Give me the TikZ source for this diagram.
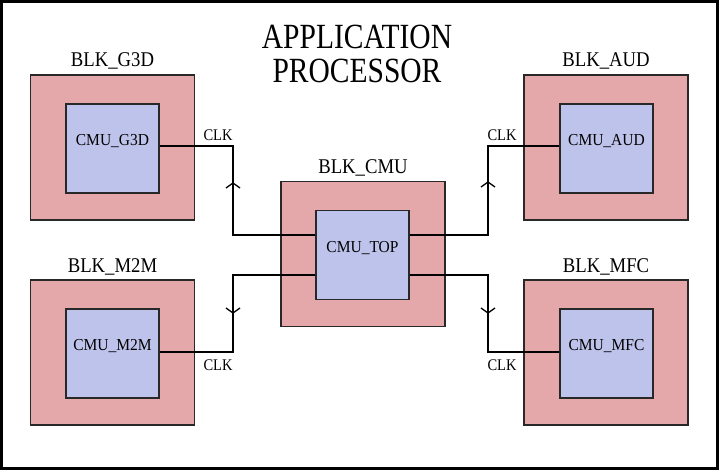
\documentclass[tikz,border=0pt]{standalone}
\usepackage{graphicx}
\usepackage{fontspec}
\setmainfont{Liberation Serif}
\definecolor{blkpink}{RGB}{229,168,170}
\definecolor{cmublue}{RGB}{190,195,235}
\definecolor{edgegray}{RGB}{40,40,40}
\newcommand{\vstr}[2][1.12]{\scalebox{1}[#1]{#2}}
\tikzset{
  blkbox/.style={draw=edgegray, line width=1.4pt, fill=blkpink, minimum width=164pt, minimum height=145pt, inner sep=0pt},
  cmubox/.style={draw=edgegray, line width=1.4pt, fill=cmublue, minimum width=93pt, minimum height=89pt, inner sep=0pt},
  blklabel/.style={anchor=base, inner sep=0pt, font=\fontsize{18.7}{20}\selectfont},
  cmulabel/.style={anchor=base, inner sep=0pt, font=\fontsize{15.5}{17}\selectfont},
  clklabel/.style={anchor=base, inner sep=0pt, font=\fontsize{14.5}{16}\selectfont},
  titlelabel/.style={anchor=base, inner sep=0pt, font=\fontsize{29.5}{32}\selectfont},
  wire/.style={draw=black, line width=1.3pt},
  chevron/.style={draw=black, line width=1.3pt, line join=miter}
}
\begin{document}
\begin{tikzpicture}[x=1pt,y=-1pt]
\useasboundingbox (0,0) rectangle (719,470);
\draw[line width=3pt] (1.5,1.5) rectangle (717.5,468.5);

% title
\node[titlelabel] (t1) at (357,49) {\vstr[1.2]{APPLICATION}};
\node[titlelabel] (t2) at (357,83) {\vstr[1.2]{PROCESSOR}};

% blocks
\node[blkbox] (blkg3d) at (112.5,147.5) {};
\node[blkbox] (blkaud) at (606,147.5) {};
\node[blkbox] (blkcmu) at (363,254) {};
\node[blkbox] (blkm2m) at (112.5,352.5) {};
\node[blkbox] (blkmfc) at (606,352.5) {};

\node[cmubox] (cmug3d) at (112.5,148.5) {};
\node[cmubox] (cmuaud) at (606.5,148.5) {};
\node[cmubox] (cmutop) at (362.5,255) {};
\node[cmubox] (cmum2m) at (112.5,353.5) {};
\node[cmubox] (cmumfc) at (606.5,353.5) {};

% block labels
\node[blklabel] (lg3d) at (112.5,67) {\vstr{BLK\_G3D}};
\node[blklabel] (laud) at (606,67) {\vstr{BLK\_AUD}};
\node[blklabel] (lcmu) at (363,174) {\vstr{BLK\_CMU}};
\node[blklabel] (lm2m) at (112.5,272) {\vstr{BLK\_M2M}};
\node[blklabel] (lmfc) at (606,272) {\vstr{BLK\_MFC}};

% cmu labels
\node[cmulabel] (tg3d) at ([yshift=3pt]cmug3d.center) {\vstr[1.08]{CMU\_G3D}};
\node[cmulabel] (taud) at ([yshift=3pt]cmuaud.center) {\vstr[1.08]{CMU\_AUD}};
\node[cmulabel] (ttop) at ([yshift=3pt]cmutop.center) {\vstr[1.08]{CMU\_TOP}};
\node[cmulabel] (tm2m) at ([yshift=3pt]cmum2m.center) {\vstr[1.08]{CMU\_M2M}};
\node[cmulabel] (tmfc) at ([yshift=3pt]cmumfc.center) {\vstr[1.08]{CMU\_MFC}};

% bend points
\coordinate (b1) at (233,146);
\coordinate (b2) at (233,352);
\coordinate (b3) at (488,146);
\coordinate (b4) at (488,352);
\coordinate (c1) at (0,235);
\coordinate (c2) at (0,275);

% wires
\draw[wire] (cmutop.west |- c1) -| (b1) -- (b1 -| cmug3d.east);
\draw[wire] (cmutop.west |- c2) -| (b2) -- (b2 -| cmum2m.east);
\draw[wire] (cmutop.east |- c1) -| (b3) -- (b3 -| cmuaud.west);
\draw[wire] (cmutop.east |- c2) -| (b4) -- (b4 -| cmumfc.west);

% chevrons on the wires
\coordinate (h1) at (233,183);
\coordinate (h2) at (233,313);
\coordinate (h3) at (488,182);
\coordinate (h4) at (488,313);
\draw[chevron] ([shift={(-7,5)}]h1) -- (h1) -- ([shift={(7,5)}]h1);
\draw[chevron] ([shift={(-7,-5)}]h2) -- (h2) -- ([shift={(7,-5)}]h2);
\draw[chevron] ([shift={(-7,5)}]h3) -- (h3) -- ([shift={(7,5)}]h3);
\draw[chevron] ([shift={(-7,-5)}]h4) -- (h4) -- ([shift={(7,-5)}]h4);

% clk labels
\node[clklabel] (k1) at (218,141) {\vstr{CLK}};
\node[clklabel] (k2) at (502,141) {\vstr{CLK}};
\node[clklabel] (k3) at (218,370) {\vstr{CLK}};
\node[clklabel] (k4) at (502,370) {\vstr{CLK}};
\end{tikzpicture}
\end{document}
